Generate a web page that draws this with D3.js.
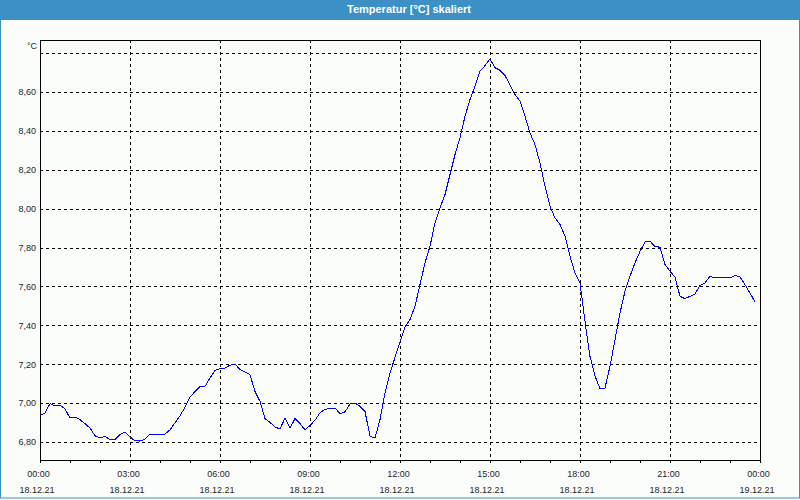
<!DOCTYPE html>
<html>
<head>
<meta charset="utf-8">
<script src="https://cdn.jsdelivr.net/npm/d3@7"></script>
<style>
  html, body { margin: 0; padding: 0; background: #fbfdfb; }
  svg { display: block; }
  text { font-family: "Liberation Sans", Arial, sans-serif; }
</style>
</head>
<body>
<svg id="chart" width="800" height="500"></svg>
<script>
const chartTitle = "Temperatur [°C] skaliert";
const unitLabel = "°C";
const dateStart = "2021-12-18T00:00:00";
const dateEnd = "2021-12-19T00:00:00";
const xTickHours = ["00:00","03:00","06:00","09:00","12:00","15:00","18:00","21:00","00:00"];
const xTickDates = ["18.12.21","18.12.21","18.12.21","18.12.21","18.12.21","18.12.21","18.12.21","18.12.21","19.12.21"];
const yTickValues = [6.8, 7.0, 7.2, 7.4, 7.6, 7.8, 8.0, 8.2, 8.4, 8.6, 8.8];
const yLabelledTicks = [6.8, 7.0, 7.2, 7.4, 7.6, 7.8, 8.0, 8.2, 8.4, 8.6];

const times = [
 "00:00","00:10","00:20","00:30","00:40","00:50","01:00","01:10","01:20","01:30","01:40","01:50",
 "02:00","02:10","02:20","02:30","02:40","02:50","03:00","03:10","03:20","03:30","03:40","03:50",
 "04:00","04:10","04:20","04:30","04:40","04:50","05:00","05:10","05:20","05:30","05:40","05:50",
 "06:00","06:10","06:20","06:30","06:40","06:50","07:00","07:10","07:20","07:30","07:40","07:50",
 "08:00","08:10","08:20","08:30","08:40","08:50","09:00","09:10","09:20","09:30","09:40","09:50",
 "10:00","10:10","10:20","10:30","10:40","10:50","11:00","11:10","11:20","11:30","11:40","11:50",
 "12:00","12:10","12:20","12:30","12:40","12:50","13:00","13:10","13:20","13:30","13:40","13:50",
 "14:00","14:10","14:20","14:30","14:40","14:50","15:00","15:10","15:20","15:30","15:40","15:50",
 "16:00","16:10","16:20","16:30","16:40","16:50","17:00","17:10","17:20","17:30","17:40","17:50",
 "18:00","18:10","18:20","18:30","18:40","18:50","19:00","19:10","19:20","19:30","19:40","19:50",
 "20:00","20:10","20:20","20:30","20:40","20:50","21:00","21:10","21:20","21:30","21:40","21:50",
 "22:00","22:10","22:20","22:30","22:40","22:50","23:00","23:10","23:20","23:30","23:40","23:50"
];
const temps = [
 6.935,6.950,6.997,6.987,6.990,6.970,6.923,6.928,6.915,6.894,6.872,6.832,
 6.820,6.829,6.812,6.812,6.838,6.851,6.826,6.806,6.805,6.815,6.841,6.841,
 6.841,6.841,6.863,6.898,6.935,6.978,7.030,7.060,7.086,7.086,7.129,7.168,
 7.177,7.180,7.195,7.201,7.172,7.160,7.146,7.060,7.009,6.920,6.901,6.877,
 6.867,6.923,6.872,6.920,6.895,6.862,6.885,6.912,6.950,6.968,6.972,6.975,
 6.946,6.955,6.995,7.000,6.983,6.957,6.829,6.820,6.915,7.052,7.155,7.235,
 7.313,7.392,7.429,7.498,7.609,7.721,7.806,7.927,8.004,8.072,8.175,8.278,
 8.364,8.475,8.561,8.629,8.706,8.735,8.770,8.724,8.711,8.684,8.637,8.586,
 8.552,8.475,8.389,8.329,8.235,8.115,8.012,7.952,7.918,7.858,7.755,7.669,
 7.618,7.420,7.240,7.140,7.073,7.078,7.189,7.326,7.464,7.575,7.652,7.721,
 7.780,7.829,7.832,7.806,7.801,7.712,7.678,7.647,7.549,7.537,7.549,7.561,
 7.604,7.618,7.652,7.644,7.644,7.644,7.644,7.657,7.649,7.609,7.566,7.520
];

const W = 800, H = 500;
const plot = { left: 40, right: 760, top: 40, bottom: 460 };
const svg = d3.select("#chart");

// background
svg.append("rect").attr("x", 0).attr("y", 0).attr("width", W).attr("height", H).attr("fill", "#fbfdfb");
// title bar
svg.append("rect").attr("x", 0).attr("y", 0).attr("width", W).attr("height", 20).attr("fill", "#3c90c6");
svg.append("text").attr("x", 409).attr("y", 12.5).attr("text-anchor", "middle")
  .attr("fill", "#ffffff").attr("font-weight", "bold").attr("font-size", "11px").text(chartTitle);
// outer frame
svg.append("rect").attr("x", 0.5).attr("y", 0.5).attr("width", W - 1).attr("height", H - 2.5)
  .attr("fill", "none").attr("stroke", "#3c90c6").attr("stroke-width", 1);

const parse = d3.timeParse("%Y-%m-%dT%H:%M:%S");
const t0 = parse(dateStart), t1 = parse(dateEnd);
const x = d3.scaleTime().domain([t0, t1]).range([plot.left, plot.right]);
const y = d3.scaleLinear().domain([6.8 - 18 / 194.5, 8.8 + 13 / 194.5]).range([plot.bottom, plot.top]);

const data = times.map((t, i) => {
  const [hh, mm] = t.split(":").map(Number);
  return { date: new Date(t0.getFullYear(), t0.getMonth(), t0.getDate(), hh, mm), v: temps[i] };
});

const fmt = d3.formatLocale({ decimal: ",", thousands: ".", grouping: [3], currency: ["", "€"] }).format(".2f");

const crisp = v => Math.round(v) + 0.5;

// horizontal grid
const g = svg.append("g").attr("shape-rendering", "crispEdges");
g.selectAll("line.hgrid").data(yTickValues).join("line")
  .attr("x1", plot.left).attr("x2", plot.right)
  .attr("y1", d => crisp(y(d))).attr("y2", d => crisp(y(d)))
  .attr("stroke", "#000").attr("stroke-width", 1).attr("stroke-dasharray", "3,3");

// vertical grid (every 3 h)
const majorTicks = d3.timeHour.every(3).range(t0, d3.timeMinute.offset(t1, 1));
g.selectAll("line.vgrid").data(majorTicks.slice(1, -1)).join("line")
  .attr("y1", plot.top).attr("y2", plot.bottom)
  .attr("x1", d => crisp(x(d))).attr("x2", d => crisp(x(d)))
  .attr("stroke", "#000").attr("stroke-width", 1).attr("stroke-dasharray", "3,3");

// x axis via d3
const xAxis = d3.axisBottom(x).ticks(d3.timeHour.every(1)).tickSize(3).tickFormat("");
const xa = svg.append("g").attr("transform", `translate(0,${plot.bottom})`).call(xAxis);
xa.select(".domain").remove();
xa.selectAll(".tick line").attr("stroke", "#000").attr("shape-rendering", "crispEdges");

// x labels
const labG = svg.append("g").attr("font-size", "9px").attr("fill", "#1e1e2a").attr("text-anchor", "middle");
majorTicks.forEach((d, i) => {
  labG.append("text").attr("x", x(d) - 1.5).attr("y", 477).text(xTickHours[i]);
  labG.append("text").attr("x", x(d) - 3).attr("y", 492.5).text(xTickDates[i]);
});

// y labels
const yAxis = d3.axisLeft(y).tickValues(yLabelledTicks).tickSize(0).tickPadding(4).tickFormat(fmt);
const ya = svg.append("g").attr("transform", `translate(${plot.left},0)`).call(yAxis);
ya.select(".domain").remove();
ya.selectAll("text").attr("font-size", "9px").attr("fill", "#1e1e2a")
  .attr("font-family", "'Liberation Sans', Arial, sans-serif");
svg.append("text").attr("x", 37).attr("y", 48.5).attr("text-anchor", "end")
  .attr("font-size", "9px").attr("fill", "#1e1e2a").text(unitLabel);

// plot frame
svg.append("rect").attr("x", plot.left + 0.5).attr("y", plot.top + 0.5)
  .attr("width", plot.right - plot.left).attr("height", plot.bottom - plot.top)
  .attr("fill", "none").attr("stroke", "#000").attr("stroke-width", 1).attr("shape-rendering", "crispEdges");

// line
const line = d3.line().x(d => x(d.date)).y(d => y(d.v));
svg.append("path").datum(data).attr("d", line)
  .attr("fill", "none").attr("stroke", "#0000ff").attr("stroke-width", 1)
  .attr("shape-rendering", "crispEdges");
</script>
</body>
</html>
